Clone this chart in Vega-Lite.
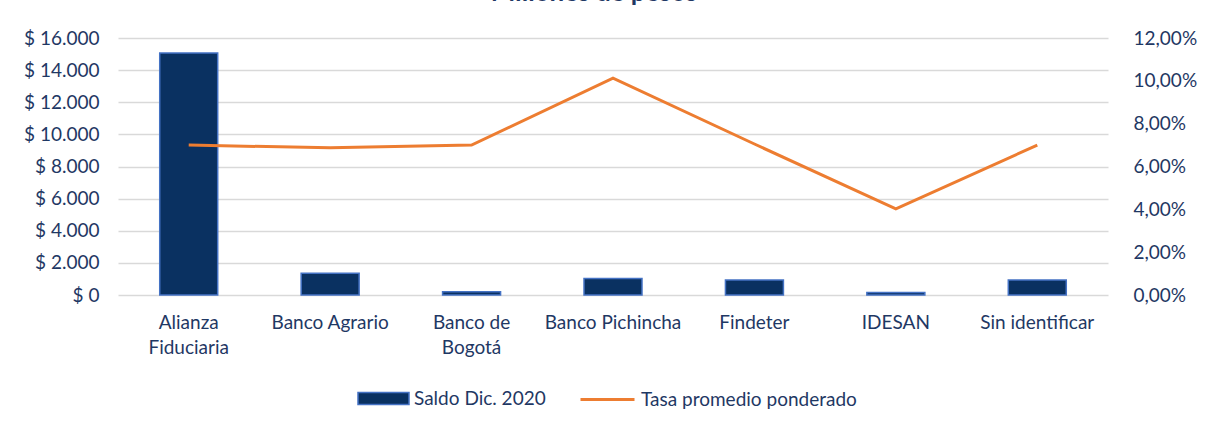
{
  "$schema": "https://vega.github.io/schema/vega-lite/v6.json",
  "width": 990,
  "height": 257,
  "autosize": {"type": "none"},
  "padding": {"left": 118, "top": 38, "right": 100, "bottom": 137},
  "background": "white",
  "title": {
    "text": "Millones de pesos",
    "fontSize": 26,
    "fontWeight": "bold",
    "font": "Lato",
    "color": "#1F3864",
    "anchor": "middle",
    "frame": "group",
    "dx": -19,
    "dy": -19
  },
  "config": {
    "locale": {
      "number": {"decimal": ",", "thousands": ".", "grouping": [3], "currency": ["$ ", ""]}
    },
    "view": {"stroke": null},
    "axis": {
      "labelFont": "Lato",
      "labelFontSize": 19,
      "labelColor": "#1F3864",
      "domain": false,
      "ticks": false,
      "title": null
    },
    "legend": {
      "labelFont": "Lato",
      "labelFontSize": 19,
      "labelColor": "#1F3864",
      "labelLimit": 0
    }
  },
  "data": {
    "values": [
      {"entidad": "Alianza Fiduciaria", "saldo": 15060, "tasa": 0.0700},
      {"entidad": "Banco Agrario", "saldo": 1350, "tasa": 0.0687},
      {"entidad": "Banco de Bogotá", "saldo": 200, "tasa": 0.0700},
      {"entidad": "Banco Pichincha", "saldo": 1020, "tasa": 0.1013},
      {"entidad": "Findeter", "saldo": 935, "tasa": 0.0705},
      {"entidad": "IDESAN", "saldo": 160, "tasa": 0.0402},
      {"entidad": "Sin identificar", "saldo": 935, "tasa": 0.0700}
    ]
  },
  "encoding": {
    "x": {
      "field": "entidad",
      "type": "nominal",
      "sort": null,
      "scale": {"paddingInner": 0, "paddingOuter": 0},
      "axis": {
        "labelAngle": 0,
        "labelPadding": 18,
        "labelLineHeight": 25,
        "labelBaseline": "top",
        "labelLimit": 0,
        "labelExpr": "datum.label == 'Alianza Fiduciaria' ? ['Alianza', 'Fiduciaria'] : datum.label == 'Banco de Bogotá' ? ['Banco de', 'Bogotá'] : datum.label",
        "grid": false
      }
    }
  },
  "layer": [
    {
      "mark": {"type": "bar", "width": {"band": 0.41}, "stroke": "#4472C4", "strokeWidth": 1.5},
      "encoding": {
        "y": {
          "field": "saldo",
          "type": "quantitative",
          "scale": {"domain": [0, 16000]},
          "axis": {
            "values": [0, 2000, 4000, 6000, 8000, 10000, 12000, 14000, 16000],
            "format": "$,.0f",
            "labelPadding": 19,
            "grid": true,
            "gridColor": "#D9D9D9",
            "gridWidth": 1.5
          }
        },
        "fill": {
          "datum": "Saldo Dic. 2020",
          "type": "nominal",
          "scale": {"range": ["#0A3161"]},
          "legend": {
            "title": null,
            "orient": "none",
            "legendX": 239,
            "legendY": 334,
            "symbolType": "M-1,-0.235H1V0.235H-1Z",
            "symbolSize": 2601,
            "symbolStrokeColor": "#4472C4",
            "symbolStrokeWidth": 1.5,
            "labelOffset": 4
          }
        }
      }
    },
    {
      "mark": {"type": "line", "strokeWidth": 3},
      "encoding": {
        "y": {
          "field": "tasa",
          "type": "quantitative",
          "scale": {"domain": [0, 0.12]},
          "axis": {
            "orient": "right",
            "values": [0, 0.02, 0.04, 0.06, 0.08, 0.1, 0.12],
            "format": ".2%",
            "labelPadding": 25,
            "grid": false
          }
        },
        "stroke": {
          "datum": "Tasa promedio ponderado",
          "type": "nominal",
          "scale": {"range": ["#ED7D31"]},
          "legend": {
            "title": null,
            "orient": "none",
            "legendX": 461,
            "legendY": 333,
            "symbolType": "stroke",
            "symbolSize": 2916,
            "symbolStrokeWidth": 3,
            "labelOffset": 5
          }
        }
      }
    }
  ],
  "resolve": {"scale": {"y": "independent", "fill": "independent", "stroke": "independent"}}
}
